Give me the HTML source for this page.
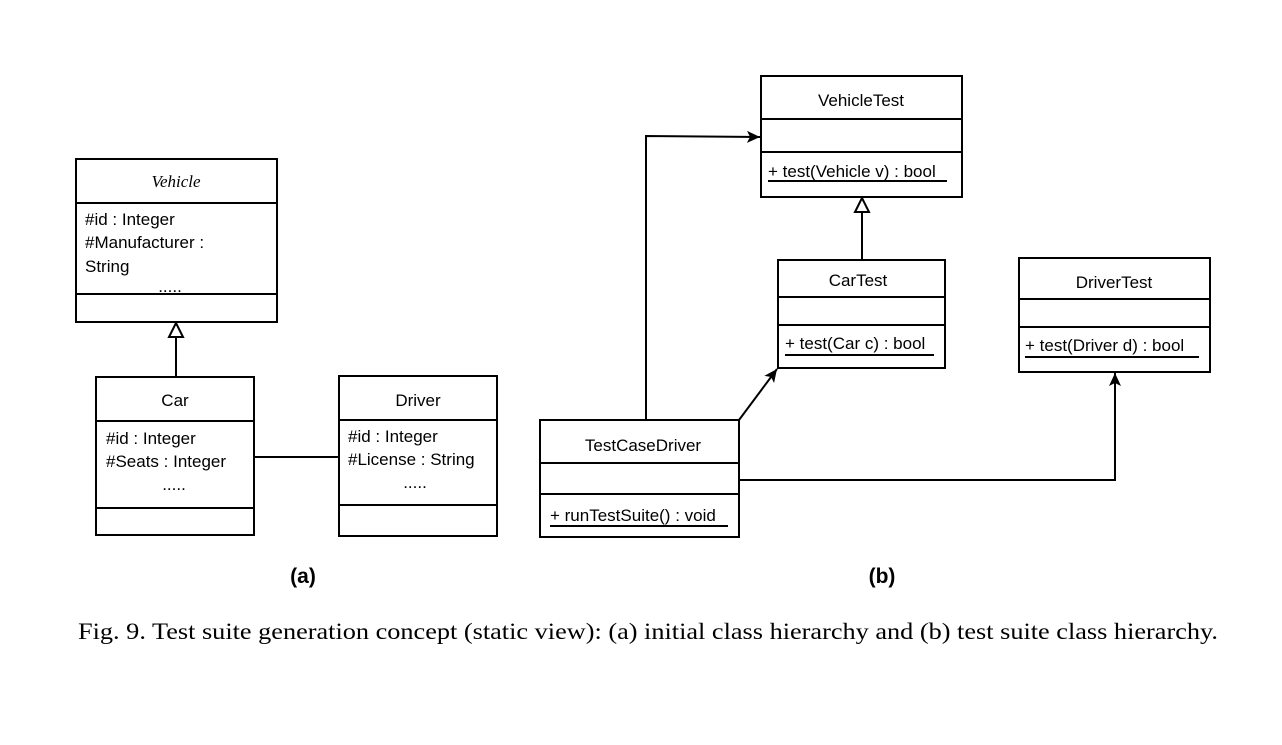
<!DOCTYPE html>
<html><head><style>
body{margin:0;background:#fff;}
svg text{font-family:"Liberation Sans",sans-serif;font-size:17px;fill:#000;}
</style></head><body>
<svg width="1282" height="740" viewBox="0 0 1282 740" xmlns="http://www.w3.org/2000/svg">
<defs>
<marker id="a" markerWidth="16" markerHeight="16" refX="13" refY="6" orient="auto" markerUnits="userSpaceOnUse"><path d="M0,0 L13,6 L0,12 L3,6 z" fill="#000"/></marker>
</defs>
<g fill="none" stroke="#000" stroke-width="2">
<rect x="76" y="159" width="201" height="163"/><line x1="76" y1="203" x2="277" y2="203"/><line x1="76" y1="294" x2="277" y2="294"/>
<rect x="96" y="377" width="158" height="158"/><line x1="96" y1="421" x2="254" y2="421"/><line x1="96" y1="508" x2="254" y2="508"/>
<rect x="339" y="376" width="158" height="160"/><line x1="339" y1="420" x2="497" y2="420"/><line x1="339" y1="505" x2="497" y2="505"/>
<line x1="254" y1="457" x2="339" y2="457"/>
<line x1="176" y1="377" x2="176" y2="337"/><path d="M169,337 L176,323 L183,337 z" fill="#fff"/>
<rect x="761" y="76" width="201" height="121"/><line x1="761" y1="119" x2="962" y2="119"/><line x1="761" y1="152" x2="962" y2="152"/>
<rect x="778" y="260" width="167" height="108"/><line x1="778" y1="297" x2="945" y2="297"/><line x1="778" y1="325" x2="945" y2="325"/>
<rect x="1019" y="258" width="191" height="114"/><line x1="1019" y1="299" x2="1210" y2="299"/><line x1="1019" y1="327" x2="1210" y2="327"/>
<rect x="540" y="420" width="199" height="117"/><line x1="540" y1="463" x2="739" y2="463"/><line x1="540" y1="494" x2="739" y2="494"/>
<line x1="862" y1="260" x2="862" y2="212"/><path d="M855,212 L862,198 L869,212 z" fill="#fff"/>
<polyline points="646,420 646,136 760,137" marker-end="url(#a)"/>
<line x1="739" y1="420" x2="777" y2="369" marker-end="url(#a)"/>
<polyline points="739,480 1115,480 1115,373" marker-end="url(#a)"/>
<line x1="768" y1="181" x2="947" y2="181"/>
<line x1="785" y1="355" x2="934" y2="355"/>
<line x1="1025" y1="357" x2="1199" y2="357"/>
<line x1="550" y1="526" x2="728" y2="526"/>
</g>
<text x="176" y="187" text-anchor="middle" style="font-family:'Liberation Serif',serif;font-style:italic">Vehicle</text>
<text x="85" y="225">#id : Integer</text>
<text x="85" y="248">#Manufacturer :</text>
<text x="85" y="272">String</text>
<text x="170" y="292" text-anchor="middle">.....</text>
<text x="175" y="406" text-anchor="middle">Car</text>
<text x="106" y="444">#id : Integer</text>
<text x="106" y="467">#Seats : Integer</text>
<text x="174" y="490" text-anchor="middle">.....</text>
<text x="418" y="406" text-anchor="middle">Driver</text>
<text x="348" y="442">#id : Integer</text>
<text x="348" y="465">#License : String</text>
<text x="415" y="488" text-anchor="middle">.....</text>
<text x="861" y="106" text-anchor="middle">VehicleTest</text>
<text x="768" y="177">+ test(Vehicle v) : bool</text>
<text x="858" y="286" text-anchor="middle">CarTest</text>
<text x="785" y="349">+ test(Car c) : bool</text>
<text x="1114" y="288" text-anchor="middle">DriverTest</text>
<text x="1025" y="351">+ test(Driver d) : bool</text>
<text x="643" y="451" text-anchor="middle">TestCaseDriver</text>
<text x="550" y="521">+ runTestSuite() : void</text>
<text x="303" y="583" text-anchor="middle" style="font-weight:bold;font-size:21px">(a)</text>
<text x="882" y="583" text-anchor="middle" style="font-weight:bold;font-size:21px">(b)</text>
<text x="78" y="639" textLength="1140" lengthAdjust="spacingAndGlyphs" style="font-family:'Liberation Serif',serif;font-size:23px">Fig. 9.  Test suite generation concept (static view): (a) initial class hierarchy and (b) test suite class hierarchy.</text>
</svg>
</body></html>
